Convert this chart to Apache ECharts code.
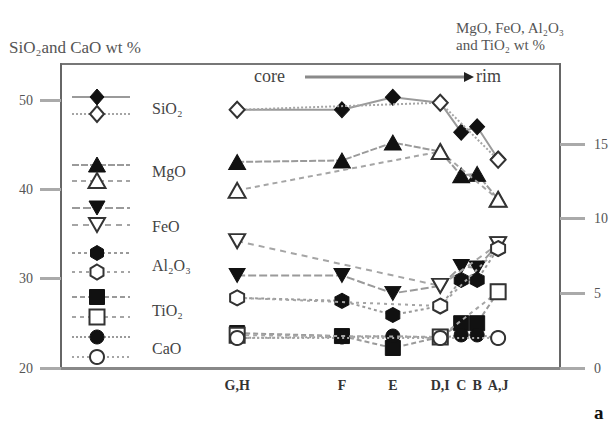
<!DOCTYPE html>
<html><head><meta charset="utf-8">
<script src="https://cdn.jsdelivr.net/npm/echarts@6/dist/echarts.min.js"></script>
<style>html,body{margin:0;padding:0;background:#fff}#c{width:615px;height:421px}</style>
</head><body><div id="c"></div>
<script>
// ---- data ----
const samplePoints   = ['G,H', 'F', 'E', 'D,I', 'C', 'B', 'A,J'];
const sampleDistance = [35.3, 56.3, 66.5, 76.0, 80.2, 83.4, 87.6];   // relative position core -> rim
const leftTicks  = [20, 30, 40, 50];
const rightTicks = [0, 5, 10, 15];

// filled symbols (one profile) and open symbols (other profile, points G,H / D,I / A,J)
const sio2Filled  = [48.9, 48.9, 50.3, 49.7, 46.4, 47.0, 43.4];
const sio2Open    = [48.9, null, null, 49.7, null, null, 43.3];
const mgoFilled   = [13.8, 13.9, 15.1, 14.5, 12.9, 13.0, 11.3];
const mgoOpen     = [11.9, null, null, 14.5, null, null, 11.3];
const feoFilled   = [6.2, 6.2, 5.0, 5.5, 6.8, 6.7, 8.3];
const feoOpen     = [8.5, null, null, 5.5, null, null, 8.3];
const al2o3Filled = [4.7, 4.5, 3.55, 4.15, 5.9, 5.9, 8.0];
const al2o3Open   = [4.7, null, null, 4.15, null, null, 8.0];
const tio2Filled  = [2.34, 2.14, 1.34, 2.08, 3.0, 3.0, 5.1];
const tio2Open    = [2.2, null, null, 2.08, null, null, 5.1];
const caoFilled   = [23.36, 23.47, 23.58, 23.36, 23.7, 23.7, 23.36];
const caoOpen     = [23.36, null, null, 23.36, null, null, 23.36];

// ---- styling ----
const SERIF = '"Liberation Serif", "DejaVu Serif", serif';
const INV_TRI = 'path://M0,0L10,0L5,10Z';
const HEX = 'path://M5,0L9.33,2.5L9.33,7.5L5,10L0.67,7.5L0.67,2.5Z';

const oxides = [
  {name:'SiO₂',  filled:sio2Filled,  open:sio2Open,  axis:0, sym:'diamond',  size:[15,16], fDash:'solid',  oDash:[2,2]},
  {name:'MgO',   filled:mgoFilled,   open:mgoOpen,   axis:1, sym:'triangle', size:[17,15], fDash:[7,2],    oDash:[5,4]},
  {name:'FeO',   filled:feoFilled,   open:feoOpen,   axis:1, sym:INV_TRI,    size:[16,14], fDash:[8,3],    oDash:[6,5]},
  {name:'Al₂O₃', filled:al2o3Filled, open:al2o3Open, axis:1, sym:HEX,        size:[14,15], fDash:[3,3],    oDash:[3,4]},
  {name:'TiO₂',  filled:tio2Filled,  open:tio2Open,  axis:1, sym:'rect',     size:[15,15], fDash:[5,3],    oDash:[4,4]},
  {name:'CaO',   filled:caoFilled,   open:caoOpen,   axis:0, sym:'circle',   size:[14,14], fDash:[2,2],    oDash:[2,3]}
];

function pairs(arr){ return arr.map((v,i)=> v==null ? null : [sampleDistance[i], v]).filter(d=>d); }

const series = [];
oxides.forEach(o => {
  series.push({
    name:o.name+' filled', type:'line', yAxisIndex:o.axis, data:pairs(o.filled),
    symbol:o.sym, symbolSize:o.size, z:2,
    lineStyle:{color:'#9a9a9a', width:2, type:o.fDash},
    itemStyle:{color:'#111', borderColor:'#111', borderWidth:1}
  });
});
oxides.forEach(o => {
  series.push({
    name:o.name+' open', type:'line', yAxisIndex:o.axis, data:pairs(o.open),
    symbol:o.sym, symbolSize:o.size, z:3,
    lineStyle:{color:'#a5a5a5', width:2, type:o.oDash},
    itemStyle:{color:'#fff', borderColor:'#333', borderWidth:2}
  });
});

// ---- legend (drawn as decoration) ----
const legendRows = [[97,114,108],[165,181,171],[208,225,226],[253,272,265],[297,317,310],[337,357,348]];
function marker(sym, cx, cy, filled){
  const style = {fill: filled ? '#111' : '#fff', stroke: filled ? '#111' : '#333', lineWidth: filled ? 1 : 2};
  let pts;
  if (sym === 'diamond') pts = [[cx,cy-8],[cx+7,cy],[cx,cy+8],[cx-7,cy]];
  else if (sym === 'triangle') pts = [[cx,cy-8],[cx+8.5,cy+7],[cx-8.5,cy+7]];
  else if (sym === INV_TRI) pts = [[cx-8,cy-7],[cx+8,cy-7],[cx,cy+7]];
  else if (sym === HEX) pts = [[cx,cy-7.5],[cx+6.5,cy-3.7],[cx+6.5,cy+3.7],[cx,cy+7.5],[cx-6.5,cy+3.7],[cx-6.5,cy-3.7]];
  else if (sym === 'rect') return {type:'rect', shape:{x:cx-7.5,y:cy-7.5,width:15,height:15}, style, z:10};
  else return {type:'circle', shape:{cx,cy,r:7}, style, z:10};
  return {type:'polygon', shape:{points:pts}, style, z:10};
}
function txt(x, y, text, size, extra){
  return Object.assign({type:'text', x, y, z:10, style:Object.assign({text, fontFamily:SERIF, fontSize:size, fill:'#444', verticalAlign:'middle'}, extra||{})});
}
const graphics = [];
oxides.forEach((o,i) => {
  const [yf, yo, yl] = legendRows[i];
  const dashF = o.fDash === 'solid' ? null : o.fDash;
  graphics.push({type:'line', shape:{x1:72,y1:yf,x2:130,y2:yf}, style:{stroke:'#9a9a9a', lineWidth:2, lineDash:dashF}, z:9});
  graphics.push({type:'line', shape:{x1:72,y1:yo,x2:130,y2:yo}, style:{stroke:'#a5a5a5', lineWidth:2, lineDash:o.oDash}, z:9});
  graphics.push(marker(o.sym, 97, yf, true));
  graphics.push(marker(o.sym, 97, yo, false));
  graphics.push(txt(152, yl, o.name, 16));
});
// titles and annotations
graphics.push(txt(9, 47, 'SiO₂and CaO wt %', 17, {fill:'#555'}));
graphics.push(txt(456, 28, 'MgO, FeO, Al₂O₃', 15, {fill:'#555'}));
graphics.push(txt(456, 45, 'and TiO₂ wt %', 15, {fill:'#555'}));
graphics.push(txt(254, 76, 'core', 18));
graphics.push({type:'line', shape:{x1:305,y1:77,x2:466,y2:77}, style:{stroke:'#8a8a8a', lineWidth:3}});
graphics.push({type:'polygon', shape:{points:[[464,72],[474,77],[464,82]]}, style:{fill:'#222'}});
graphics.push(txt(476, 76, 'rim', 18));
graphics.push(txt(594, 412, 'a', 19, {fontWeight:'bold', fill:'#111'}));

const option = {
  animation:false,
  backgroundColor:'#fff',
  grid:{left:61, right:55, top:64, bottom:53, show:true, borderColor:'#777', borderWidth:2},
  xAxis:{
    type:'value', min:0, max:100,
    axisLine:{show:true, onZero:false, lineStyle:{color:'#888', width:3}},
    axisTick:{show:false}, splitLine:{show:false},
    axisLabel:{
      customValues:sampleDistance,
      formatter:v => { const i = sampleDistance.findIndex(d => Math.abs(d-v) < 1e-6); return i >= 0 ? samplePoints[i] : ''; },
      fontFamily:SERIF, fontWeight:'bold', fontSize:14, color:'#333', margin:10
    }
  },
  yAxis:[
    {type:'value', position:'left', min:20, max:54.03,
     axisLine:{show:true, lineStyle:{color:'#666', width:2}},
     axisTick:{show:true, length:21, customValues:leftTicks, lineStyle:{color:'#aaa', width:3}},
     axisLabel:{customValues:leftTicks, margin:28, fontFamily:SERIF, fontSize:14, color:'#555'},
     splitLine:{show:false}},
    {type:'value', position:'right', min:0, max:20.36,
     axisLine:{show:true, lineStyle:{color:'#666', width:2}},
     axisTick:{show:true, length:25, customValues:rightTicks, lineStyle:{color:'#aaa', width:3}},
     axisLabel:{customValues:rightTicks, margin:34, fontFamily:SERIF, fontSize:14, color:'#555'},
     splitLine:{show:false}}
  ],
  graphic:graphics,
  series:series
};
const chart = echarts.init(document.getElementById('c'), null, {renderer:'svg'});
chart.setOption(option);
</script></body></html>
